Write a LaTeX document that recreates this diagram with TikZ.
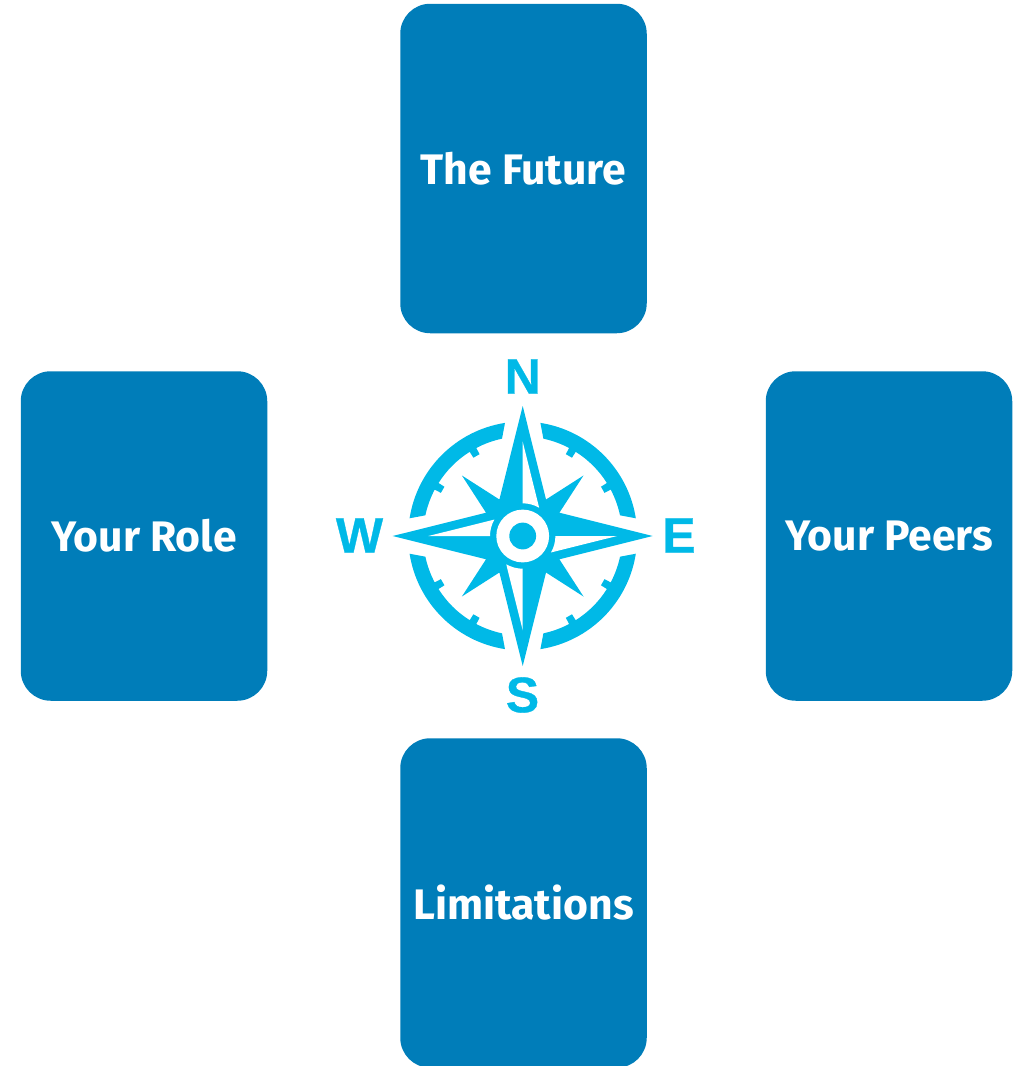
\documentclass[tikz,border=0pt]{standalone}
\usepackage{fontspec}
\setmainfont{Fira Sans}
\newfontfamily\compassfont{Liberation Sans Bold}[FakeBold=0.6]
\definecolor{cardblue}{HTML}{007DB9}
\definecolor{compassblue}{HTML}{00B9E7}
\newcommand{\lifted}[1]{\raisebox{1.3pt}{#1}}
\tikzset{
  x=1pt,y=1pt,
  card/.style={fill=cardblue,draw=none,rounded corners=30pt,minimum width=246.5pt,minimum height=329.5pt,inner sep=0pt,
    text=white,font=\fontsize{42.7}{42.7}\selectfont\bfseries},
  point/.style={text=compassblue,inner sep=0pt,font=\fontsize{50}{50}\selectfont\compassfont},
  rose/.style={fill=compassblue,draw=none},
  cut/.style={fill=white,draw=none}
}
\newcommand{\ringpart}[1]{%
  \fill[rose,rotate=#1] (98.9:114.5) arc[start angle=98.9,end angle=171.1,radius=114.5]
    -- (168:99.5) arc[start angle=168,end angle=152.2,radius=99.5]
    -- (152.2:92.5) -- (147.8:92.5) -- (147.8:99.5)
    arc[start angle=147.8,end angle=122.2,radius=99.5]
    -- (122.2:92.5) -- (117.8:92.5) -- (117.8:99.5)
    arc[start angle=117.8,end angle=102,radius=99.5] -- cycle;}
\newcommand{\sliver}[1]{%
  \fill[cut,rotate=#1] (0,94.3) -- (0,32.7) arc[start angle=90,end angle=59.8,radius=32.7] -- cycle;}
\begin{document}
\begin{tikzpicture}
\useasboundingbox (0,0) rectangle (1024,-1066);
\node[card] (future) at (523.5,-168.5) {\lifted{The Future}};
\node[card] (role) at (144,-536) {\lifted{Your Role}};
\node[card] (peers) at (889,-536) {\lifted{Your Peers}};
\node[card] (limits) at (523.5,-903) {\lifted{Limitations}};
\node[point] (n) at (522.8,-376.5) {N};
\node[point] (s) at (522.5,-695) {S};
\node[point] (w) at (359.5,-535.5) {W};
\node[point] (e) at (679,-535.5) {E};
\begin{scope}[shift={(522.7,-536)}]
  \ringpart{0}\ringpart{90}\ringpart{180}\ringpart{270}
  \fill[rose] (0,130) -- (23.3,36.5) -- (60.8,60.5) -- (36.7,23.3) -- (130,0)
    -- (36.7,-23.3) -- (60.8,-60.5) -- (23.3,-36.5) -- (0,-130)
    -- (-23.3,-36.5) -- (-60.8,-60.5) -- (-36.7,-23.3) -- (-130,0)
    -- (-36.7,23.3) -- (-60.8,60.5) -- (-23.3,36.5) -- cycle;
  \fill[rose] (0,0) circle[radius=32.7];
  \sliver{0}\sliver{-90}\sliver{-180}\sliver{-270}
  \fill[cut] (0,0) circle[radius=26.4];
  \fill[rose] (0,0) circle[radius=13.4];
\end{scope}
\end{tikzpicture}
\end{document}
